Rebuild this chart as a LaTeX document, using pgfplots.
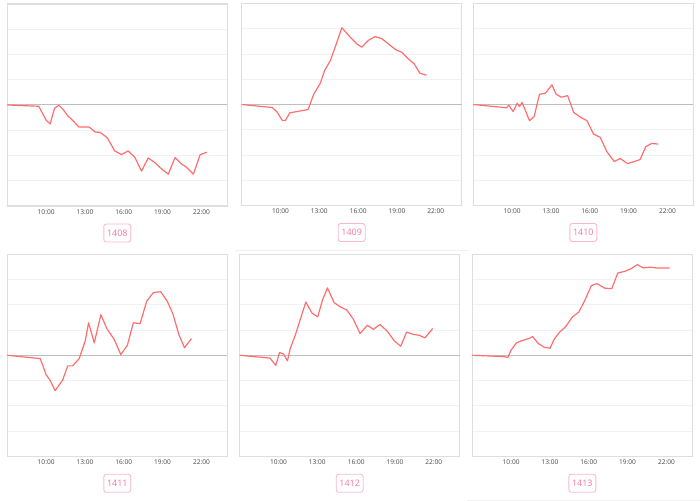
\documentclass[border=0pt]{standalone}
\usepackage{pgfplots}
\pgfplotsset{compat=1.18}
\usepackage{fontspec}
\setmainfont{Open Sans}
\definecolor{redline}{RGB}{255,110,110}
\definecolor{gridc}{RGB}{242,242,242}
\definecolor{framec}{RGB}{222,222,222}
\definecolor{zeroc}{RGB}{190,190,190}
\definecolor{pinkb}{RGB}{248,185,205}
\definecolor{pinkt}{RGB}{242,120,160}
\definecolor{tickc}{RGB}{70,70,70}
\pgfplotsset{
  panel/.style={
    scale only axis, width=220bp, height=202bp, anchor=north west,
    xmin=7, xmax=24, ymin=-4, ymax=4,
    xtick={10,13,16,19,22}, xticklabels={10:00,13:00,16:00,19:00,22:00},
    ytick={-3,-2,-1,1,2,3}, yticklabels={},
    major tick length=0pt,
    ymajorgrids, grid style={gridc, line width=0.6bp},
    axis line style={framec, line width=1.3bp},
    tick label style={font=\fontsize{6.6}{7}\selectfont, text=tickc},
    /pgf/number format/assume math mode=true,
    clip=false,
  },
  redl/.style={redline, line width=1.2bp, no marks, line join=round},
  zerol/.style={zeroc, line width=1bp, no marks},
}
\newcommand{\panellabel}[1]{\node[draw=pinkb, line width=0.9bp, rounded corners=2.5bp, text=pinkt, font=\fontsize{9}{10}\selectfont, minimum width=27bp, minimum height=18bp, inner sep=1bp] at ([yshift=-27bp]rel axis cs:0.5,0) {#1};}
\begin{document}
\begin{tikzpicture}
\useasboundingbox (0,0) rectangle (700bp,501bp);
\draw[gray!12, line width=0.8bp] (235bp,251bp) -- (469bp,251bp);
\draw[gray!12, line width=0.8bp] (467bp,1bp) -- (700bp,1bp);
% 1408
\begin{axis}[panel, at={(7.3bp,497bp)}]
\addplot[zerol] coordinates {(7,0) (24,0)};
\addplot[redl] coordinates {(7,0) (9.43,-0.05) (10.0,-0.6) (10.31,-0.75) (10.65,-0.13) (10.98,-0.01) (11.3,-0.17) (11.68,-0.43) (12.07,-0.62) (12.53,-0.87) (13.31,-0.87) (13.8,-1.07) (14.2,-1.09) (14.73,-1.3) (15.3,-1.82) (15.82,-1.96) (16.34,-1.82) (16.85,-2.07) (17.37,-2.62) (17.89,-2.1) (18.4,-2.28) (18.92,-2.53) (19.44,-2.74) (19.96,-2.08) (20.47,-2.34) (20.86,-2.47) (21.38,-2.74) (21.9,-1.97) (22.41,-1.87)};
\panellabel{1408}
\end{axis}
% 1409
\begin{axis}[panel, at={(241.7bp,497.5bp)}]
\addplot[zerol] coordinates {(7,0) (24,0)};
\addplot[redl] coordinates {(7,0) (9.36,-0.12) (9.74,-0.30) (10.13,-0.63) (10.38,-0.63) (10.72,-0.33) (12.13,-0.2) (12.56,0.40) (13.08,0.85) (13.41,1.35) (13.85,1.74) (14.31,2.40) (14.74,3.04) (15.38,2.67) (15.9,2.40) (16.28,2.27) (16.79,2.54) (17.31,2.69) (17.82,2.61) (18.33,2.40) (18.9,2.17) (19.36,2.07) (19.87,1.81) (20.33,1.61) (20.77,1.24) (21.28,1.16)};
\panellabel{1409}
\end{axis}
% 1410
\begin{axis}[panel, at={(473.3bp,497.5bp)}]
\addplot[zerol] coordinates {(7,0) (24,0)};
\addplot[redl] coordinates {(7,0) (9.56,-0.13) (9.74,-0.03) (10.08,-0.28) (10.39,0.05) (10.57,-0.08) (10.77,0.08) (11.34,-0.64) (11.7,-0.48) (12.11,0.40) (12.57,0.45) (13.08,0.78) (13.39,0.41) (13.8,0.29) (14.29,0.35) (14.75,-0.31) (15.27,-0.50) (15.78,-0.64) (16.29,-1.17) (16.81,-1.30) (17.32,-1.87) (17.89,-2.26) (18.35,-2.14) (18.92,-2.34) (19.43,-2.26) (19.89,-2.18) (20.33,-1.67) (20.79,-1.54) (21.3,-1.57)};
\panellabel{1410}
\end{axis}
% 1411
\begin{axis}[panel, at={(7.3bp,246.7bp)}]
\addplot[zerol] coordinates {(7,0) (24,0)};
\addplot[redl] coordinates {(7,0) (9.54,-0.13) (9.74,-0.40) (10.0,-0.77) (10.31,-0.99) (10.69,-1.40) (11.03,-1.16) (11.28,-0.98) (11.67,-0.42) (12.05,-0.42) (12.56,-0.13) (13.03,0.59) (13.28,1.29) (13.72,0.49) (14.23,1.61) (14.69,1.06) (15.26,0.63) (15.77,0.03) (16.28,0.40) (16.74,1.29) (17.26,1.25) (17.77,2.14) (18.28,2.48) (18.85,2.52) (19.36,2.14) (19.79,1.65) (20.26,0.82) (20.69,0.30) (21.23,0.66)};
\panellabel{1411}
\end{axis}
% 1412
\begin{axis}[panel, at={(239.7bp,246.7bp)}]
\addplot[zerol] coordinates {(7,0) (24,0)};
\addplot[redl] coordinates {(7,0) (9.34,-0.11) (9.79,-0.40) (10.08,0.11) (10.39,0.05) (10.69,-0.22) (10.9,0.26) (11.29,0.79) (12.11,2.11) (12.57,1.68) (13.03,1.52) (13.39,2.18) (13.78,2.67) (14.29,2.09) (14.83,1.90) (15.27,1.80) (15.78,1.43) (16.3,0.86) (16.86,1.19) (17.33,1.03) (17.84,1.22) (18.41,0.95) (18.95,0.57) (19.44,0.36) (19.9,0.92) (20.41,0.83) (20.88,0.79) (21.32,0.69) (21.91,1.06)};
\panellabel{1412}
\end{axis}
% 1413
\begin{axis}[panel, at={(472.3bp,246.7bp)}]
\addplot[zerol] coordinates {(7,0) (24,0)};
\addplot[redl] coordinates {(7,0) (9.44,-0.05) (9.74,-0.09) (10.0,0.21) (10.43,0.50) (10.89,0.59) (11.35,0.66) (11.66,0.74) (12.09,0.47) (12.55,0.32) (13.01,0.28) (13.32,0.63) (13.75,0.92) (14.21,1.13) (14.72,1.51) (15.23,1.71) (15.66,2.14) (16.2,2.76) (16.64,2.84) (17.22,2.66) (17.78,2.64) (18.24,3.26) (18.76,3.32) (19.27,3.43) (19.75,3.59) (20.21,3.46) (20.72,3.49) (21.23,3.46) (22.25,3.46)};
\panellabel{1413}
\end{axis}
\end{tikzpicture}
\end{document}
